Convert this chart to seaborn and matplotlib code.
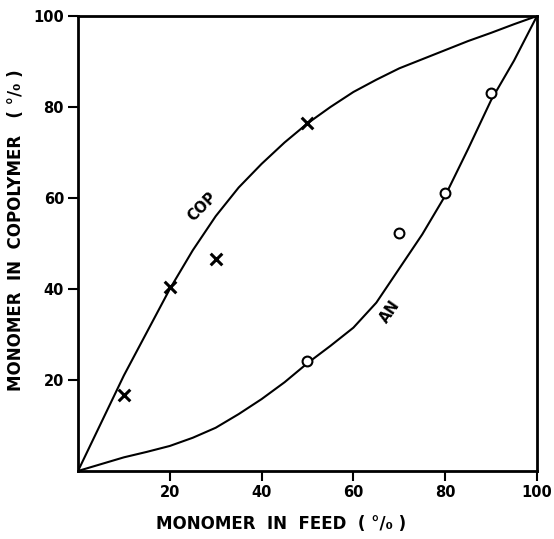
import matplotlib
matplotlib.use('Agg')
import matplotlib.pyplot as plt
import pandas as pd
import seaborn as sns

# Curve values
feed = [0, 5, 10, 15, 20, 25, 30, 35, 40, 45, 50,
        55, 60, 65, 70, 75, 80, 85, 90, 95, 100]
cop_curve = [0, 10.5, 21, 30.5, 40, 48.5, 56, 62.3, 67.5, 72.2, 76.4,
             80, 83.3, 86, 88.5, 90.5, 92.5, 94.5, 96.3, 98.2, 100]
an_curve = [0, 1.5, 3, 4.2, 5.5, 7.3, 9.5, 12.5, 15.8, 19.5, 23.7,
            27.5, 31.5, 37, 44.5, 52, 60.5, 70.8, 81.5, 90.2, 100]

# Measured points
cop_x = [10, 20, 30, 50]
cop_y = [16.6, 40.4, 46.5, 76.5]
an_x = [50, 70, 80, 90]
an_y = [24.2, 52.2, 61, 83]

curves = pd.DataFrame({'feed': feed, 'COP': cop_curve, 'AN': an_curve})
pts_cop = pd.DataFrame({'x': cop_x, 'y': cop_y})
pts_an = pd.DataFrame({'x': an_x, 'y': an_y})

sns.set_style('ticks', rc={'text.color': 'black', 'axes.labelcolor': 'black',
                           'xtick.color': 'black', 'ytick.color': 'black',
                           'axes.edgecolor': 'black'})
plt.rcParams['font.family'] = ['DejaVu Sans']
plt.rcParams['font.weight'] = 'bold'

fig = plt.figure(figsize=(5.54, 5.39), dpi=100)
ax = fig.add_axes([0.1408, 0.1262, 0.8285, 0.8441])

sns.lineplot(data=curves, x='feed', y='COP', color='black', linewidth=1.5, ax=ax)
sns.lineplot(data=curves, x='feed', y='AN', color='black', linewidth=1.5, ax=ax)
sns.scatterplot(data=pts_cop, x='x', y='y', marker='x', s=70, color='black',
                linewidth=2.2, ax=ax, zorder=5)
sns.scatterplot(data=pts_an, x='x', y='y', marker='o', s=50, facecolor='white',
                edgecolor='black', linewidth=1.5, ax=ax, zorder=5)

ax.text(27, 58, 'COP', rotation=45, ha='center', va='center',
        fontsize=10.5, fontweight='bold')
ax.text(68, 35, 'AN', rotation=55, ha='center', va='center',
        fontsize=10.5, fontweight='bold')

ax.set_xlim(0, 100)
ax.set_ylim(0, 100)
ax.set_xticks([20, 40, 60, 80, 100])
ax.set_yticks([20, 40, 60, 80, 100])
ax.tick_params(direction='out', length=7, width=1.5, labelsize=10.5, pad=3)
for lab in ax.get_xticklabels() + ax.get_yticklabels():
    lab.set_fontweight('bold')
for sp in ax.spines.values():
    sp.set_visible(True)
    sp.set_linewidth(2)

ax.set_xlabel('MONOMER  IN  FEED  ( °/₀ )', fontsize=12, fontweight='bold')
ax.set_ylabel('MONOMER  IN  COPOLYMER   ( °/₀ )', fontsize=12, fontweight='bold')
ax.xaxis.set_label_coords(0.442, -0.097)
ax.yaxis.set_label_coords(-0.115, 0.53)

fig.savefig('out.png', dpi=100)
